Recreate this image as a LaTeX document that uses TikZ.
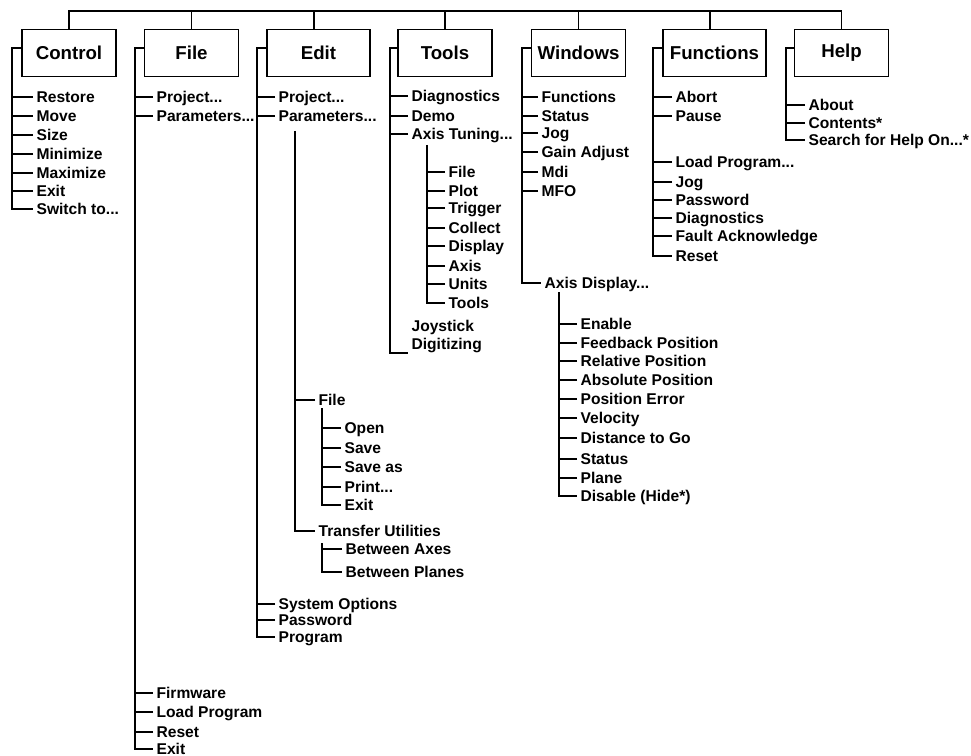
\documentclass[tikz,border=0pt]{standalone}
\usepackage{fontspec}
\setmainfont{Liberation Sans}
\usepackage{tikz}
\tikzstyle{menu} = [rectangle, draw=black, line width=1pt, minimum width=70.5pt, minimum height=35.25pt, font=\fontsize{14}{16}\selectfont\bfseries]
\tikzstyle{menuitem} = [anchor=west, inner xsep=2.5pt, inner ysep=0pt, text height=8.4pt, text depth=0pt, font=\fontsize{11.7}{13.5}\selectfont\bfseries]
\tikzstyle{branch} = [line width=0.9pt]

\begin{document}
\begin{tikzpicture}[x=0.75pt, y=-0.75pt]

            \useasboundingbox (0,0) rectangle (971,756);

            % menu bar
            \node (control) [menu] at (69,53) {Control};
            \node (file) [menu] at (191.5,53) {File};
            \node (edit) [menu, minimum width=77.25pt] at (318.5,53) {Edit};
            \node (tools) [menu] at (445,53) {Tools};
            \node (windows) [menu] at (578.5,53) {Windows};
            \node (functions) [menu, minimum width=77.25pt] at (714.5,53) {Functions};
            \node (help) [menu] at (841.5,53) {Help};

            \coordinate (bus) at (0,11);

            % Control
            \node (ctrl1) [menuitem] at (33,97) {Restore};
            \node (ctrl2) [menuitem] at (33,116) {Move};
            \node (ctrl3) [menuitem] at (33,135) {Size};
            \node (ctrl4) [menuitem] at (33,154) {Minimize};
            \node (ctrl5) [menuitem] at (33,173) {Maximize};
            \node (ctrl6) [menuitem] at (33,191) {Exit};
            \node (ctrl7) [menuitem] at (33,209) {Switch to...};
            \coordinate (ctrlbar) at (12,48);

            % File
            \node (file1) [menuitem] at (153,97) {Project...};
            \node (file2) [menuitem] at (153,116) {Parameters...};
            \node (file3) [menuitem] at (153,693) {Firmware};
            \node (file4) [menuitem] at (153,712) {Load Program};
            \node (file5) [menuitem] at (153,732) {Reset};
            \node (file6) [menuitem] at (153,749) {Exit};
            \coordinate (filebar) at (135,48);

            % Edit
            \node (edit1) [menuitem] at (275,97) {Project...};
            \node (edit2) [menuitem] at (275,116) {Parameters...};
            \node (edit3) [menuitem] at (275,604) {System Options};
            \node (edit4) [menuitem] at (275,620) {Password};
            \node (edit5) [menuitem] at (275,637) {Program};
            \coordinate (editbar) at (257,48);

            \node (par1) [menuitem] at (315,400) {File};
            \node (par2) [menuitem] at (315,531) {Transfer Utilities};
            \coordinate (parbar) at (295,131);

            \node (pfile1) [menuitem] at (341,428) {Open};
            \node (pfile2) [menuitem] at (341,448) {Save};
            \node (pfile3) [menuitem] at (341,467) {Save as};
            \node (pfile4) [menuitem] at (341,487) {Print...};
            \node (pfile5) [menuitem] at (341,505) {Exit};
            \coordinate (pfilebar) at (322,408);

            \node (xfer1) [menuitem] at (342,549) {Between Axes};
            \node (xfer2) [menuitem] at (342,572) {Between Planes};
            \coordinate (xferbar) at (322,543);

            % Tools
            \node (tool1) [menuitem] at (408,96) {Diagnostics};
            \node (tool2) [menuitem] at (408,116) {Demo};
            \node (tool3) [menuitem] at (408,134) {Axis Tuning...};
            \node (tool4) [menuitem, align=left, text depth=13.5pt] at (408,353) {Joystick\\Digitizing};
            \coordinate (toolbar) at (390,48);

            \node (tune1) [menuitem] at (445,172) {File};
            \node (tune2) [menuitem] at (445,191) {Plot};
            \node (tune3) [menuitem] at (445,208) {Trigger};
            \node (tune4) [menuitem] at (445,228) {Collect};
            \node (tune5) [menuitem] at (445,246) {Display};
            \node (tune6) [menuitem] at (445,266) {Axis};
            \node (tune7) [menuitem] at (445,284) {Units};
            \node (tune8) [menuitem] at (445,303) {Tools};
            \coordinate (tunebar) at (427,145);

            % Windows
            \node (win1) [menuitem] at (538,97) {Functions};
            \node (win2) [menuitem] at (538,116) {Status};
            \node (win3) [menuitem] at (538,133) {Jog};
            \node (win4) [menuitem] at (538,152) {Gain Adjust};
            \node (win5) [menuitem] at (538,172) {Mdi};
            \node (win6) [menuitem] at (538,191) {MFO};
            \node (win7) [menuitem] at (541,283) {Axis Display...};
            \coordinate (winbar) at (522,48);

            \node (disp1) [menuitem] at (577,324) {Enable};
            \node (disp2) [menuitem] at (577,343) {Feedback Position};
            \node (disp3) [menuitem] at (577,361) {Relative Position};
            \node (disp4) [menuitem] at (577,380) {Absolute Position};
            \node (disp5) [menuitem] at (577,399) {Position Error};
            \node (disp6) [menuitem] at (577,418) {Velocity};
            \node (disp7) [menuitem] at (577,438) {Distance to Go};
            \node (disp8) [menuitem] at (577,459) {Status};
            \node (disp9) [menuitem] at (577,478) {Plane};
            \node (disp10) [menuitem] at (577,496) {Disable (Hide*)};
            \coordinate (dispbar) at (559,292);

            % Functions
            \node (fn1) [menuitem] at (672,97) {Abort};
            \node (fn2) [menuitem] at (672,116) {Pause};
            \node (fn3) [menuitem] at (672,162) {Load Program...};
            \node (fn4) [menuitem] at (672,182) {Jog};
            \node (fn5) [menuitem] at (672,200) {Password};
            \node (fn6) [menuitem] at (672,218) {Diagnostics};
            \node (fn7) [menuitem] at (672,236) {Fault Acknowledge};
            \node (fn8) [menuitem] at (672,256) {Reset};
            \coordinate (fnbar) at (653,48);

            % Help
            \node (help1) [menuitem] at (805,105) {About};
            \node (help2) [menuitem] at (805,123) {Contents*};
            \node (help3) [menuitem] at (805,140) {Search for Help On...*};
            \coordinate (helpbar) at (786,48);


            \draw [branch] (control.north) -- (control.north |- bus) -| (help.north);
            \draw [branch] (file.north) -- (file.north |- bus);
            \draw [branch] ([xshift=-3.4pt]edit.north) -- ([xshift=-3.4pt]edit.north |- bus);
            \draw [branch] (tools.north) -- (tools.north |- bus);
            \draw [branch] (windows.north) -- (windows.north |- bus);
            \draw [branch] ([xshift=-3.4pt]functions.north) -- ([xshift=-3.4pt]functions.north |- bus);

            \draw [branch] (ctrlbar -| control.west) -- (ctrlbar) |- (ctrl7.west);
            \draw [branch] (ctrl1.west) -- (ctrl1.west -| ctrlbar);
            \draw [branch] (ctrl2.west) -- (ctrl2.west -| ctrlbar);
            \draw [branch] (ctrl3.west) -- (ctrl3.west -| ctrlbar);
            \draw [branch] (ctrl4.west) -- (ctrl4.west -| ctrlbar);
            \draw [branch] (ctrl5.west) -- (ctrl5.west -| ctrlbar);
            \draw [branch] (ctrl6.west) -- (ctrl6.west -| ctrlbar);

            \draw [branch] (filebar -| file.west) -- (filebar) |- (file6.west);
            \draw [branch] (file1.west) -- (file1.west -| filebar);
            \draw [branch] (file2.west) -- (file2.west -| filebar);
            \draw [branch] (file3.west) -- (file3.west -| filebar);
            \draw [branch] (file4.west) -- (file4.west -| filebar);
            \draw [branch] (file5.west) -- (file5.west -| filebar);

            \draw [branch] (editbar -| edit.west) -- (editbar) |- (edit5.west);
            \draw [branch] (edit1.west) -- (edit1.west -| editbar);
            \draw [branch] (edit2.west) -- (edit2.west -| editbar);
            \draw [branch] (edit3.west) -- (edit3.west -| editbar);
            \draw [branch] (edit4.west) -- (edit4.west -| editbar);

            \draw [branch] (parbar) |- (par2.west);
            \draw [branch] (par1.west) -- (par1.west -| parbar);

            \draw [branch] (pfilebar) |- (pfile5.west);
            \draw [branch] (pfile1.west) -- (pfile1.west -| pfilebar);
            \draw [branch] (pfile2.west) -- (pfile2.west -| pfilebar);
            \draw [branch] (pfile3.west) -- (pfile3.west -| pfilebar);
            \draw [branch] (pfile4.west) -- (pfile4.west -| pfilebar);

            \draw [branch] (xferbar) |- (xfer2.west);
            \draw [branch] (xfer1.west) -- (xfer1.west -| xferbar);

            \draw [branch] (toolbar -| tools.west) -- (toolbar) |- (tool4.west);
            \draw [branch] (tool1.west) -- (tool1.west -| toolbar);
            \draw [branch] (tool2.west) -- (tool2.west -| toolbar);
            \draw [branch] (tool3.west) -- (tool3.west -| toolbar);

            \draw [branch] (tunebar) |- (tune8.west);
            \draw [branch] (tune1.west) -- (tune1.west -| tunebar);
            \draw [branch] (tune2.west) -- (tune2.west -| tunebar);
            \draw [branch] (tune3.west) -- (tune3.west -| tunebar);
            \draw [branch] (tune4.west) -- (tune4.west -| tunebar);
            \draw [branch] (tune5.west) -- (tune5.west -| tunebar);
            \draw [branch] (tune6.west) -- (tune6.west -| tunebar);
            \draw [branch] (tune7.west) -- (tune7.west -| tunebar);

            \draw [branch] (winbar -| windows.west) -- (winbar) |- (win7.west);
            \draw [branch] (win1.west) -- (win1.west -| winbar);
            \draw [branch] (win2.west) -- (win2.west -| winbar);
            \draw [branch] (win3.west) -- (win3.west -| winbar);
            \draw [branch] (win4.west) -- (win4.west -| winbar);
            \draw [branch] (win5.west) -- (win5.west -| winbar);
            \draw [branch] (win6.west) -- (win6.west -| winbar);

            \draw [branch] (dispbar) |- (disp10.west);
            \draw [branch] (disp1.west) -- (disp1.west -| dispbar);
            \draw [branch] (disp2.west) -- (disp2.west -| dispbar);
            \draw [branch] (disp3.west) -- (disp3.west -| dispbar);
            \draw [branch] (disp4.west) -- (disp4.west -| dispbar);
            \draw [branch] (disp5.west) -- (disp5.west -| dispbar);
            \draw [branch] (disp6.west) -- (disp6.west -| dispbar);
            \draw [branch] (disp7.west) -- (disp7.west -| dispbar);
            \draw [branch] (disp8.west) -- (disp8.west -| dispbar);
            \draw [branch] (disp9.west) -- (disp9.west -| dispbar);

            \draw [branch] (fnbar -| functions.west) -- (fnbar) |- (fn8.west);
            \draw [branch] (fn1.west) -- (fn1.west -| fnbar);
            \draw [branch] (fn2.west) -- (fn2.west -| fnbar);
            \draw [branch] (fn3.west) -- (fn3.west -| fnbar);
            \draw [branch] (fn4.west) -- (fn4.west -| fnbar);
            \draw [branch] (fn5.west) -- (fn5.west -| fnbar);
            \draw [branch] (fn6.west) -- (fn6.west -| fnbar);
            \draw [branch] (fn7.west) -- (fn7.west -| fnbar);

            \draw [branch] (helpbar -| help.west) -- (helpbar) |- (help3.west);
            \draw [branch] (help1.west) -- (help1.west -| helpbar);
            \draw [branch] (help2.west) -- (help2.west -| helpbar);


        \end{tikzpicture}
\end{document}
